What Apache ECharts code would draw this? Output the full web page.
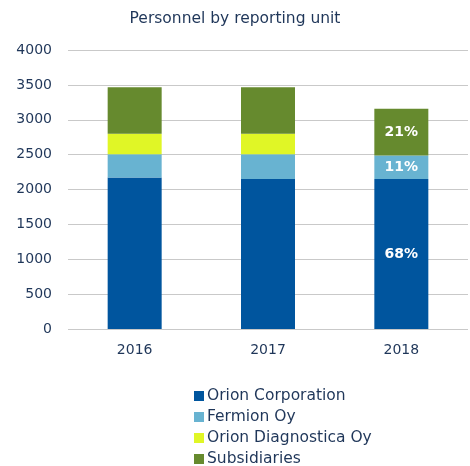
<!DOCTYPE html>
<html>
<head>
<meta charset="utf-8">
<script src="https://cdn.jsdelivr.net/npm/echarts@6/dist/echarts.min.js"></script>
<style>html,body{margin:0;padding:0;background:#fff;}#c{width:470px;height:466px;}</style>
</head>
<body>
<div id="c"></div>
<script>
const categories = ['2016', '2017', '2018'];
const orionCorporation = [2173, 2149, 2149];
const fermionOy = [334, 358, 339];
const orionDiagnostica = [291, 291, 0];
const subsidiaries = [669, 669, 668];
const seriesNames = ['Orion Corporation', 'Fermion Oy', 'Orion Diagnostica Oy', 'Subsidiaries'];
const colors = ['#00559e', '#68b3d1', '#e0f626', '#668a2e'];
const labelledIndex = 2;

const all = [orionCorporation, fermionOy, orionDiagnostica, subsidiaries];
const totals = categories.map((_, i) => all.reduce((s, a) => s + a[i], 0));
const font = 'DejaVu Sans';
const textColor = '#1f3659';

const chart = echarts.init(document.getElementById('c'));
chart.setOption({
  animation: false,
  title: {
    text: 'Personnel by reporting unit',
    left: 230, top: 6, textAlign: 'center',
    textStyle: { fontFamily: font, fontSize: 15.5, fontWeight: 'normal', color: textColor }
  },
  grid: { left: 68, right: 2, top: 50, bottom: 137 },
  legend: {
    orient: 'vertical', left: 194, top: 388, height: 80, padding: 0, itemGap: 5,
    itemWidth: 10, itemHeight: 10, icon: 'rect',
    textStyle: { fontFamily: font, fontSize: 15.5, color: textColor, padding: [0, 0, 0, -2] },
    data: seriesNames
  },
  xAxis: {
    type: 'category', data: categories,
    axisLine: { show: false }, axisTick: { show: false },
    axisLabel: { fontFamily: font, fontSize: 14, color: textColor, margin: 14 }
  },
  yAxis: {
    type: 'value', min: 0, max: 4000, interval: 500,
    axisLabel: { fontFamily: font, fontSize: 14, color: textColor, margin: 16, formatter: v => String(v) },
    splitLine: { lineStyle: { color: '#c9c9c9', width: 1 } }
  },
  series: all.map((d, k) => ({
    name: seriesNames[k], type: 'bar', stack: 'total', data: d,
    barWidth: 54,
    itemStyle: { color: colors[k] },
    label: {
      show: true, position: 'inside', color: '#fff',
      fontFamily: font, fontSize: 14, fontWeight: 'bold',
      formatter: p => (p.dataIndex === labelledIndex && p.value > 0) ? Math.round(p.value / totals[p.dataIndex] * 100) + '%' : ''
    }
  }))
});
</script>
</body>
</html>
